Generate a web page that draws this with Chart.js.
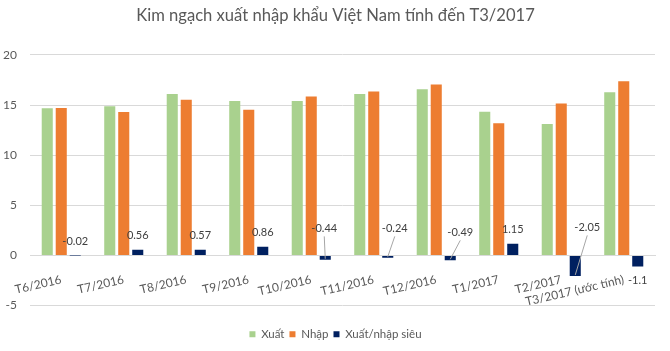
<!DOCTYPE html>
<html>
<head>
<meta charset="utf-8">
<script src="https://cdn.jsdelivr.net/npm/chart.js@4/dist/chart.umd.min.js"></script>
<style>
    body { margin: 0; background: #ffffff; }
    #grafic { display: block; }
</style>
</head>
<body>
<canvas id="grafic" width="670" height="351"></canvas>
<script>
// Dades llegides del gràfic (tỷ USD)
const thang = ['T6/2016', 'T7/2016', 'T8/2016', 'T9/2016', 'T10/2016', 'T11/2016',
    'T12/2016', 'T1/2017', 'T2/2017', 'T3/2017 (ước tính)'];
const xuat = [14.68, 14.87, 16.1, 15.4, 15.4, 16.1, 16.57, 14.33, 13.1, 16.27];
const nhap = [14.7, 14.31, 15.53, 14.54, 15.84, 16.34, 17.06, 13.18, 15.15, 17.37];
const canCan = [-0.02, 0.56, 0.57, 0.86, -0.44, -0.24, -0.49, 1.15, -2.05, -1.1];
const trucY = [-5, 0, 5, 10, 15, 20];

const textGris = '#595959';
const font = 'Lato';

// Etiquetes de la sèrie Xuất/nhập siêu (amb línia guia per a les que Excel va moure)
const guies = { 4: [-1, -27], 5: [7, -27], 6: [10, -23], 8: [12, -28] };

const etiquetes = {
    id: 'etiquetes',
    afterLayout(chart) {
        // títol i llegenda centrats sobre tot el llenç, com a Excel
        [chart.titleBlock, chart.legend].forEach(b => { b.left += 8; b.right += 8; });
    },
    afterDatasetsDraw(chart) {
        const ctx = chart.ctx;
        const meta = chart.getDatasetMeta(2);
        const zero = chart.scales.y.getPixelForValue(0);
        ctx.save();
        ctx.font = '11px ' + font;
        ctx.fillStyle = '#404040';
        ctx.textAlign = 'center';
        ctx.textBaseline = 'middle';
        meta.data.forEach((bar, i) => {
            const v = canCan[i];
            const text = String(v);
            if (guies[i]) {
                const lx = bar.x + guies[i][0];
                const ly = zero + guies[i][1];
                ctx.strokeStyle = '#A6A6A6';
                ctx.lineWidth = 1;
                ctx.beginPath();
                ctx.moveTo(lx, ly + 8);
                ctx.lineTo(bar.x, bar.y - 1);
                ctx.stroke();
                ctx.fillText(text, lx, ly);
            } else if (v < -0.5) {
                ctx.fillText(text, bar.x, bar.y + 14);
            } else {
                ctx.fillText(text, bar.x, Math.min(bar.y, zero) - 14);
            }
        });
        ctx.restore();
    }
};

new Chart(document.getElementById('grafic'), {
    type: 'bar',
    data: {
        labels: thang,
        datasets: [
            { label: 'Xuất', data: xuat, backgroundColor: '#A9D18E' },
            { label: 'Nhập', data: nhap, backgroundColor: '#ED7D31' },
            { label: 'Xuất/nhập siêu', data: canCan, backgroundColor: '#002060' }
        ]
    },
    options: {
        responsive: false,
        animation: false,
        layout: { padding: { left: 0, right: 15, top: 0, bottom: 1 } },
        datasets: { bar: { categoryPercentage: 0.672, barPercentage: 0.79, borderWidth: 0 } },
        plugins: {
            title: {
                display: true,
                text: 'Kim ngạch xuất nhập khẩu Việt Nam tính đến T3/2017',
                color: textGris,
                font: { family: font, size: 16.6, weight: 'normal' },
                padding: { top: 6, bottom: 29 }
            },
            legend: {
                position: 'bottom',
                title: { display: true, text: ' ', font: { size: 10 }, padding: 3 },
                labels: {
                    boxWidth: 6, boxHeight: 6, padding: 5,
                    color: textGris,
                    font: { family: font, size: 11.5 }
                }
            },
            tooltip: { enabled: false }
        },
        scales: {
            x: {
                position: { y: 0 },
                grid: { display: false },
                border: { color: '#D9D9D9' },
                ticks: {
                    autoSkip: false, minRotation: 13, maxRotation: 13, padding: 9,
                    color: textGris,
                    font: { family: font, size: 12 }
                }
            },
            y: {
                min: trucY[0],
                max: trucY[trucY.length - 1],
                afterBuildTicks: (scale) => { scale.ticks = trucY.map(v => ({ value: v })); },
                afterFit: (scale) => { scale.width = 30; },
                grid: { color: '#D9D9D9', drawTicks: false },
                border: { display: false },
                ticks: {
                    padding: 13,
                    color: textGris,
                    font: { family: font, size: 12 }
                }
            }
        }
    },
    plugins: [etiquetes]
});
</script>
</body>
</html>
